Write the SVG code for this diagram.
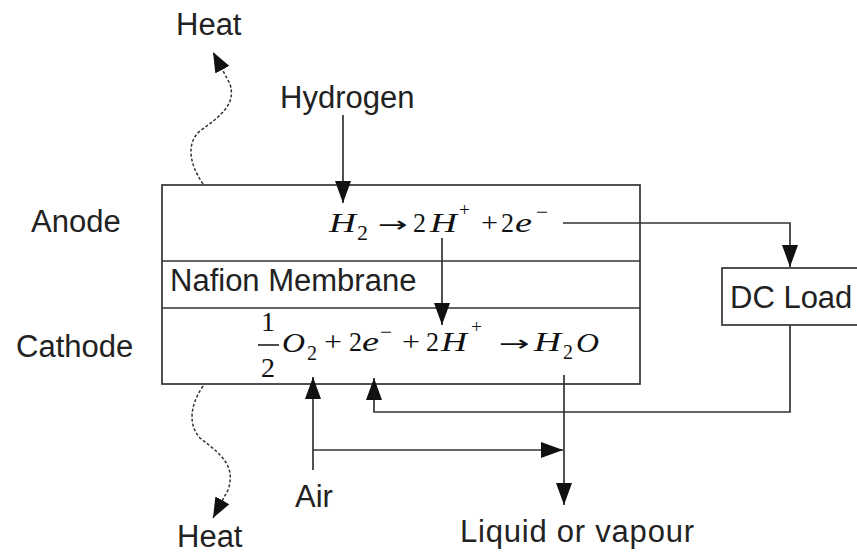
<svg xmlns="http://www.w3.org/2000/svg" width="857" height="554" viewBox="0 0 857 554">
<style>
.lbl{font-family:"Liberation Sans",Arial,sans-serif;font-size:31px;fill:#222}
.eq{font-family:"Liberation Serif","Times New Roman",serif;font-size:28px;fill:#111}
.it{font-style:italic}
.sm{font-size:22px}
.ss{font-size:18px}
.arr{font-family:"DejaVu Sans",sans-serif;font-size:22px}
.ln{fill:none;stroke:#333;stroke-width:1.7}
.dash{fill:none;stroke:#333;stroke-width:1.5;stroke-dasharray:3 2}
</style>
<defs>
<marker id="ah" markerUnits="userSpaceOnUse" markerWidth="24" markerHeight="18" refX="22" refY="8" orient="auto">
<path d="M0,0 L22,8 L0,16 z" fill="#111"/>
</marker>
<marker id="hh" markerUnits="userSpaceOnUse" markerWidth="22" markerHeight="18" refX="20" refY="8" orient="auto">
<path d="M0,0 L20,8 L0,16 z" fill="#111"/>
</marker>
</defs>
<rect width="857" height="554" fill="#fff"/>
<g id="cell">
<rect x="162" y="185" width="478" height="199" class="ln"/>
<line x1="162" y1="261" x2="640" y2="261" class="ln"/>
<line x1="162" y1="308" x2="640" y2="308" class="ln"/>
</g>
<g id="anode-label"><text class="lbl" x="31" y="232">Anode</text></g>
<g id="cathode-label"><text class="lbl" x="16" y="357">Cathode</text></g>
<g id="membrane"><text class="lbl" x="170" y="291">Nafion Membrane</text></g>
<g id="hydrogen"><text class="lbl" x="280" y="108">Hydrogen</text></g>
<g id="heat-top"><text class="lbl" x="176" y="35">Heat</text></g>
<g id="heat-bottom"><text class="lbl" x="177" y="547">Heat</text></g>
<g id="air"><text class="lbl" x="295" y="507">Air</text></g>
<g id="liquid"><text class="lbl" x="460" y="542" textLength="234">Liquid or vapour</text></g>
<g id="dc-load">
<rect x="722" y="268" width="145" height="57" class="ln"/>
<text class="lbl" x="730" y="308">DC Load</text>
</g>
<g id="anode-eq" class="eq">
<text class="it" x="329" y="232" textLength="27" lengthAdjust="spacingAndGlyphs">H</text>
<text class="sm" x="357" y="240" textLength="11" lengthAdjust="spacingAndGlyphs">2</text>
<text class="arr" x="378" y="232" textLength="30" lengthAdjust="spacingAndGlyphs">→</text>
<text x="413" y="232" textLength="13" lengthAdjust="spacingAndGlyphs">2</text>
<text class="it" x="430" y="232" textLength="27" lengthAdjust="spacingAndGlyphs">H</text>
<text class="ss" x="459" y="216" textLength="11" lengthAdjust="spacingAndGlyphs">+</text>
<text x="481" y="232" textLength="17" lengthAdjust="spacingAndGlyphs">+</text>
<text x="501" y="232" textLength="13" lengthAdjust="spacingAndGlyphs">2</text>
<text class="it" x="515" y="232" textLength="17" lengthAdjust="spacingAndGlyphs">e</text>
<text class="ss" x="536" y="218" textLength="12" lengthAdjust="spacingAndGlyphs">−</text>
</g>
<g id="cathode-eq" class="eq">
<text x="268" y="331" text-anchor="middle">1</text>
<line x1="258" y1="345" x2="279" y2="345" stroke="#111" stroke-width="1.5"/>
<text x="268" y="377" text-anchor="middle">2</text>
<text class="it" x="282" y="352" textLength="23" lengthAdjust="spacingAndGlyphs">O</text>
<text class="sm" x="307" y="360" textLength="10" lengthAdjust="spacingAndGlyphs">2</text>
<text x="324" y="351" textLength="18" lengthAdjust="spacingAndGlyphs">+</text>
<text x="349" y="351" textLength="13" lengthAdjust="spacingAndGlyphs">2</text>
<text class="it" x="362" y="351" textLength="17" lengthAdjust="spacingAndGlyphs">e</text>
<text class="ss" x="380" y="338" textLength="12" lengthAdjust="spacingAndGlyphs">−</text>
<text x="402" y="351" textLength="18" lengthAdjust="spacingAndGlyphs">+</text>
<text x="426" y="351" textLength="13" lengthAdjust="spacingAndGlyphs">2</text>
<text class="it" x="441" y="351" textLength="26" lengthAdjust="spacingAndGlyphs">H</text>
<text class="ss" x="471" y="333" textLength="11" lengthAdjust="spacingAndGlyphs">+</text>
<text class="arr" x="499" y="351" textLength="31" lengthAdjust="spacingAndGlyphs">→</text>
<text class="it" x="534" y="351" textLength="27" lengthAdjust="spacingAndGlyphs">H</text>
<text class="sm" x="563" y="359" textLength="10" lengthAdjust="spacingAndGlyphs">2</text>
<text class="it" x="576" y="352" textLength="23" lengthAdjust="spacingAndGlyphs">O</text>
</g>
<g id="connectors">
<path class="ln" d="M343,115 V203" marker-end="url(#ah)"/>
<path class="ln" d="M442,238 V325" marker-end="url(#ah)"/>
<path class="ln" d="M563,223 H790 V267" marker-end="url(#ah)"/>
<path class="ln" d="M790,325 V412 H374 V378" marker-end="url(#ah)"/>
<path class="ln" d="M313,470 V377" marker-end="url(#ah)"/>
<path class="ln" d="M313,450 H563" marker-end="url(#ah)"/>
<path class="ln" d="M564,375 V505" marker-end="url(#ah)"/>
<path class="dash" d="M203,184 C188,162 187,142 200,131 C222,115 236,104 230,84 L213,52" marker-end="url(#hh)"/>
<path class="dash" d="M203,386 C190,405 188,425 200,438 C222,455 236,466 228,490 L213,518" marker-end="url(#hh)"/>
</g>
</svg>
